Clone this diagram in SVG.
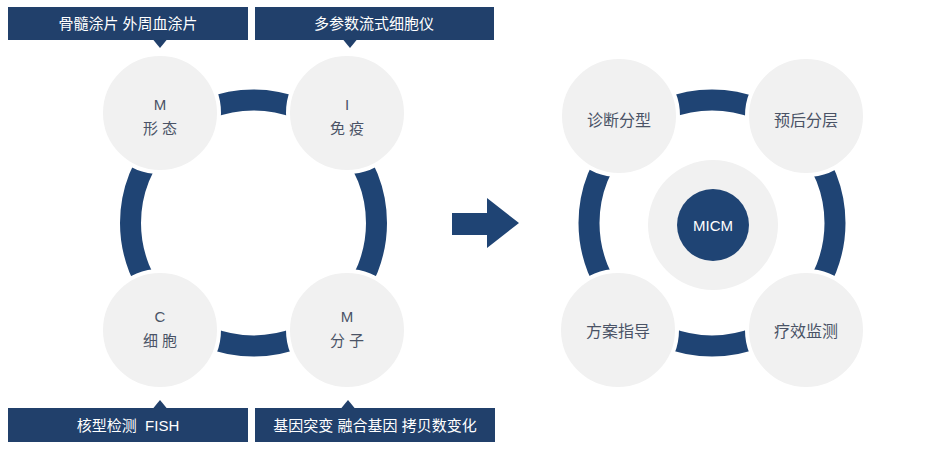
<svg xmlns="http://www.w3.org/2000/svg" width="930" height="461" viewBox="0 0 930 461">
<style>
.ring{fill:none;stroke:#1f4474;stroke-width:21}
.node{fill:#f1f1f1;stroke:#ffffff;stroke-width:4}
.banner{fill:#21406b}
.bt{font-family:"Liberation Sans","Noto Sans CJK SC",sans-serif;font-size:15px;fill:#ffffff;text-anchor:middle}
.lt{font-family:"Liberation Sans","Noto Sans CJK SC",sans-serif;font-size:15px;fill:#4a5366;text-anchor:middle}
.rt{font-family:"Liberation Sans","Noto Sans CJK SC",sans-serif;font-size:16px;fill:#4a5366;text-anchor:middle}
.ct{font-family:"Liberation Sans","Noto Sans CJK SC",sans-serif;font-size:15px;fill:#ffffff;text-anchor:middle}
</style>
<rect width="930" height="461" fill="#ffffff"/>
<g id="connectors">
<circle class="ring" cx="253.5" cy="223" r="123"/>
<circle class="ring" cx="712" cy="223" r="123"/>
<path d="M452 213 H487 V198 L519 223 L487 248 V235 H452 Z" fill="#1f4474"/>
</g>
<g id="banner-tl"><rect class="banner" x="8" y="7" width="240" height="33"/><path class="banner" d="M153 39.5 L160 48 L167 39.5 Z"/><text class="bt" x="128" y="29">骨髓涂片 外周血涂片</text></g>
<g id="banner-tr"><rect class="banner" x="255" y="7" width="239" height="33"/><path class="banner" d="M343 39.5 L350 48 L357 39.5 Z"/><text class="bt" x="374" y="29">多参数流式细胞仪</text></g>
<g id="banner-bl"><rect class="banner" x="8" y="408" width="240" height="34"/><path class="banner" d="M153 408.5 L160 400 L167 408.5 Z"/><text class="bt" x="128" y="431">核型检测&#160; FISH</text></g>
<g id="banner-br"><rect class="banner" x="255" y="408" width="240" height="34"/><path class="banner" d="M341 408.5 L348 400 L355 408.5 Z"/><text class="bt" x="375" y="431">基因突变 融合基因 拷贝数变化</text></g>
<g id="node-m1"><circle class="node" cx="160" cy="113" r="59"/><text class="lt" x="160" y="110">M</text><text class="lt" x="160" y="134">形 态</text></g>
<g id="node-i"><circle class="node" cx="347" cy="113" r="59"/><text class="lt" x="347" y="110">I</text><text class="lt" x="347" y="134">免 疫</text></g>
<g id="node-c"><circle class="node" cx="160" cy="330" r="59"/><text class="lt" x="160" y="322">C</text><text class="lt" x="160" y="346">细 胞</text></g>
<g id="node-m2"><circle class="node" cx="347" cy="330" r="59"/><text class="lt" x="347" y="322">M</text><text class="lt" x="347" y="346">分 子</text></g>
<g id="node-diag"><circle class="node" cx="619" cy="116" r="59"/><text class="rt" x="619" y="126">诊断分型</text></g>
<g id="node-prog"><circle class="node" cx="806" cy="116" r="59"/><text class="rt" x="806" y="126">预后分层</text></g>
<g id="node-plan"><circle class="node" cx="618" cy="330" r="59"/><text class="rt" x="618" y="337">方案指导</text></g>
<g id="node-eff"><circle class="node" cx="806" cy="330" r="59"/><text class="rt" x="806" y="337">疗效监测</text></g>
<g id="node-micm"><circle cx="713" cy="225" r="65" fill="#f1f1f1"/><circle cx="713" cy="225" r="36" fill="#1f4474"/><text class="ct" x="713" y="231">MICM</text></g>
</svg>
